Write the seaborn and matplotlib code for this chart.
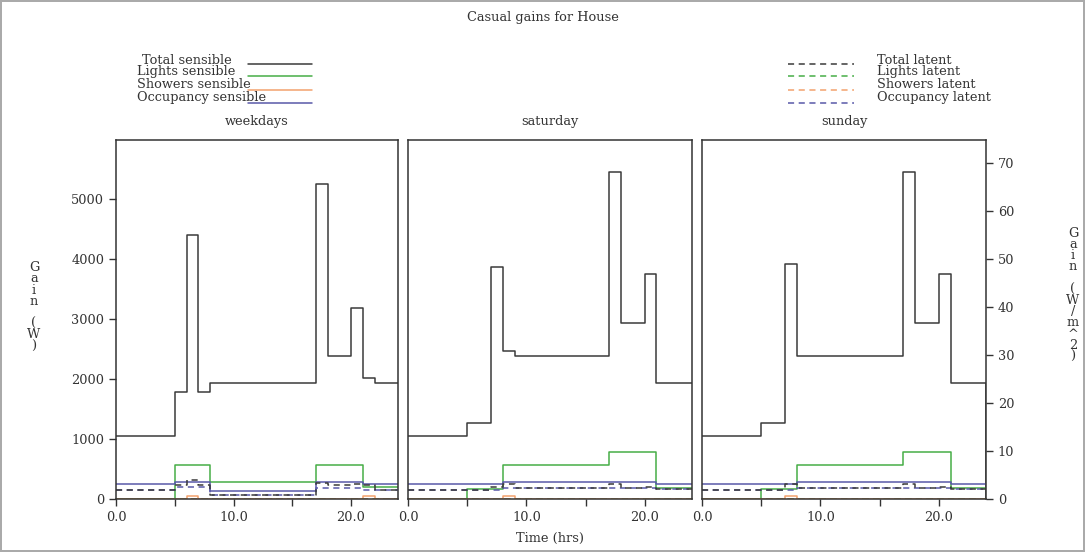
import numpy as np
import pandas as pd
import matplotlib
matplotlib.use("Agg")
import matplotlib.pyplot as plt
from matplotlib.lines import Line2D
import seaborn as sns

# Step profiles (hour where each step starts, value in W)
days = ["weekdays", "saturday", "sunday"]
FLOOR_AREA = 80.0  # m^2, ratio of the two y scales

wd_total_hrs = [0, 5, 6, 7, 8, 17, 18, 20, 21, 22, 24]
wd_total_sens = [1050, 1780, 4400, 1780, 1940, 5240, 2380, 3180, 2010, 1940, 1940]
wd_total_lat = [145, 228, 310, 228, 72, 272, 228, 245, 228, 145, 145]
wd_group_hrs = [0, 5, 8, 17, 21, 24]
wd_lights_sens = [0, 570, 285, 570, 200, 200]
wd_occ_sens = [245, 283, 128, 283, 245, 245]
wd_occ_lat = [145, 195, 72, 180, 145, 145]
wd_shower_hrs = [0, 6, 7, 21, 22, 24]
wd_shower_sens = [0, 45, 0, 45, 0, 0]

sa_total_hrs = [0, 5, 7, 8, 9, 17, 18, 20, 21, 24]
sa_total_sens = [1050, 1260, 3870, 2460, 2390, 5440, 2940, 3740, 1940, 1940]
sa_lat_hrs = [0, 7, 8, 9, 17, 18, 20, 21, 24]
sa_total_lat = [145, 200, 250, 190, 250, 190, 205, 165, 165]
sa_lights_hrs = [0, 5, 8, 17, 21, 24]
sa_lights_sens = [0, 172, 572, 780, 190, 190]
sa_occ_hrs = [0, 8, 21, 24]
sa_occ_sens = [245, 283, 245, 245]
sa_occ_lat = [145, 175, 165, 165]
sa_shower_hrs = [0, 8, 9, 24]
sa_shower_sens = [0, 45, 0, 0]

su_total_hrs = [0, 5, 7, 8, 17, 18, 20, 21, 24, 24]
su_total_sens = [1050, 1260, 3920, 2390, 5440, 2940, 3740, 1940, 1940, 0]
su_lat_hrs = [0, 7, 8, 17, 18, 20, 21, 24]
su_total_lat = [145, 245, 190, 250, 190, 205, 165, 165]
su_lights_hrs = [0, 5, 8, 17, 21, 24]
su_lights_sens = [0, 172, 572, 780, 190, 190]
su_occ_hrs = [0, 8, 21, 24]
su_occ_sens = [245, 283, 245, 245]
su_occ_lat = [145, 175, 165, 165]
su_shower_hrs = [0, 7, 8, 24]
su_shower_sens = [0, 45, 0, 0]

zero_hrs = [0, 24]
zero_vals = [0, 0]

sens_labels = ["Total sensible", "Lights sensible", "Showers sensible", "Occupancy sensible"]
lat_labels = ["Total latent", "Lights latent", "Showers latent", "Occupancy latent"]

BLACK = "#3a3a3a"
GREEN = "#46ad46"
ORANGE = "#f2a26e"
BLUE = "#5858a8"
colors = [BLACK, GREEN, ORANGE, BLUE]
DASH = (0, (4, 3))

# per panel: list of (hours, values, colour, linestyle)
panels = {
    "weekdays": [
        (wd_total_hrs, wd_total_sens, BLACK, "-"),
        (wd_group_hrs, wd_lights_sens, GREEN, "-"),
        (wd_shower_hrs, wd_shower_sens, ORANGE, "-"),
        (wd_group_hrs, wd_occ_sens, BLUE, "-"),
        (zero_hrs, zero_vals, GREEN, DASH),
        (zero_hrs, zero_vals, ORANGE, DASH),
        (wd_group_hrs, wd_occ_lat, BLUE, DASH),
        (wd_total_hrs, wd_total_lat, BLACK, DASH),
    ],
    "saturday": [
        (sa_total_hrs, sa_total_sens, BLACK, "-"),
        (sa_lights_hrs, sa_lights_sens, GREEN, "-"),
        (sa_shower_hrs, sa_shower_sens, ORANGE, "-"),
        (sa_occ_hrs, sa_occ_sens, BLUE, "-"),
        (zero_hrs, zero_vals, GREEN, DASH),
        (zero_hrs, zero_vals, ORANGE, DASH),
        (sa_occ_hrs, sa_occ_lat, BLUE, DASH),
        (sa_lat_hrs, sa_total_lat, BLACK, DASH),
    ],
    "sunday": [
        (su_total_hrs, su_total_sens, BLACK, "-"),
        (su_lights_hrs, su_lights_sens, GREEN, "-"),
        (su_shower_hrs, su_shower_sens, ORANGE, "-"),
        (su_occ_hrs, su_occ_sens, BLUE, "-"),
        (zero_hrs, zero_vals, GREEN, DASH),
        (zero_hrs, zero_vals, ORANGE, DASH),
        (su_occ_hrs, su_occ_lat, BLUE, DASH),
        (su_lat_hrs, su_total_lat, BLACK, DASH),
    ],
}

sns.set_style("ticks")
plt.rcParams["font.family"] = ["DejaVu Serif"]
plt.rcParams["text.color"] = "#333333"
plt.rcParams["axes.edgecolor"] = "#333333"
plt.rcParams["xtick.color"] = "#333333"
plt.rcParams["ytick.color"] = "#333333"
FS = 9.3

W, H = 1085, 552
fig = plt.figure(figsize=(W / 100, H / 100), dpi=100)
fig.patch.set_edgecolor("#aaaaaa")
fig.patch.set_linewidth(1.5)


def fx(px):
    return px / W


def fy(py):
    return 1 - py / H


YMAX = 5980
lefts = [116, 408, 702]
widths = [282, 284, 284]
top, bottom = 140, 499

for i, day in enumerate(days):
    ax = fig.add_axes([fx(lefts[i]), fy(bottom), widths[i] / W, (bottom - top) / H])
    for hrs, vals, col, ls in panels[day]:
        df = pd.DataFrame({"hour": hrs, "gain": vals})
        sns.lineplot(data=df, x="hour", y="gain", ax=ax, color=col, linestyle=ls,
                     linewidth=1.1, drawstyle="steps-post", estimator=None, sort=False)
    ax.set_xlim(0, 24)
    ax.set_ylim(0, YMAX)
    ax.set_xlabel("")
    ax.set_ylabel("")
    ax.set_xticks([0, 10, 20])
    ax.set_xticklabels(["0.0", "10.0", "20.0"], fontsize=FS)
    ax.set_xticks([5, 15], minor=True)
    ax.tick_params(axis="x", which="both", direction="out", length=5, width=1)
    for s in ax.spines.values():
        s.set_linewidth(1.1)
        s.set_visible(True)
    if i == 0:
        ax.set_yticks([0, 1000, 2000, 3000, 4000, 5000])
        ax.set_yticklabels(["0", "1000", "2000", "3000", "4000", "5000"], fontsize=FS)
        ax.tick_params(axis="y", direction="out", length=5, width=1)
    else:
        ax.set_yticks([])
    fig.text(fx(lefts[i] + widths[i] / 2), fy(122), day, ha="center", va="center", fontsize=FS)
    if i == 2:
        ax2 = ax.twinx()
        ax2.set_ylim(0, YMAX / FLOOR_AREA)
        ax2.set_yticks(np.arange(0, 80, 10))
        ax2.set_yticklabels([str(v) for v in range(0, 80, 10)], fontsize=FS)
        ax2.tick_params(axis="y", direction="out", length=5, width=1)
        for s in ax2.spines.values():
            s.set_visible(False)

fig.text(0.5, fy(18), "Casual gains for House", ha="center", va="center", fontsize=FS)
fig.text(fx(550), fy(538), "Time (hrs)", ha="center", va="center", fontsize=FS)
fig.text(fx(34), fy(307), "G\na\ni\nn\n \n(\nW\n)", ha="center", va="center",
         fontsize=FS, linespacing=0.82)
fig.text(fx(1073), fy(295), "G\na\ni\nn\n \n(\nW\n/\nm\n^\n2\n)", ha="center", va="center",
         fontsize=FS, linespacing=0.82)

# legend blocks drawn by hand (text overlaps the sample lines in the original)
text_rows = [60, 72, 85, 97]
line_rows = [64, 76, 90, 103]
sens_x = [142, 137, 137, 137]
for k in range(4):
    fig.text(fx(sens_x[k]), fy(text_rows[k]), sens_labels[k], ha="left", va="center", fontsize=FS)
    fig.add_artist(Line2D([fx(248), fx(312)], [fy(line_rows[k])] * 2, color=colors[k],
                          linewidth=1.1, transform=fig.transFigure))
    fig.text(fx(877), fy(text_rows[k]), lat_labels[k], ha="left", va="center", fontsize=FS)
    fig.add_artist(Line2D([fx(788), fx(854)], [fy(line_rows[k])] * 2, color=colors[k],
                          linewidth=1.1, linestyle=DASH, transform=fig.transFigure))

fig.savefig("out.png", dpi=100)
plt.close(fig)
